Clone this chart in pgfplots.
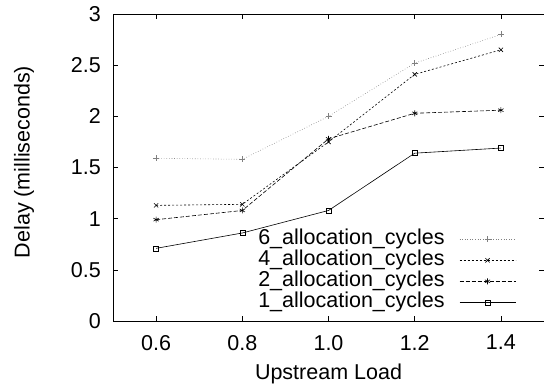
\documentclass[border=0pt]{standalone}
\usepackage{pgfplots}
\pgfplotsset{compat=1.18}
\usepackage{fontspec}
\setmainfont{Liberation Sans}
\begin{document}
\fontsize{21.5bp}{25bp}\selectfont
\begin{tikzpicture}
\useasboundingbox (0,0) rectangle (544bp,389bp);
\begin{axis}[
  at={(113bp,68bp)}, anchor=south west,
  scale only axis, width=431bp, height=307bp,
  xmin=0.5, xmax=1.5, ymin=0, ymax=3,
  xtick={0.6,0.8,1.0,1.2,1.4},
  xticklabels={0.6,0.8,1.0,1.2,1.4},
  ytick={0,0.5,1,1.5,2,2.5,3},
  yticklabels={0,0.5,1,1.5,2,2.5,3},
  tick align=inside, major tick length=5bp,
  tick style={black, line width=0.5bp},
  axis line style={line width=0.8bp},
  xtick pos=both, ytick pos=both,
  /pgf/number format/assume math mode=true,
  tick label style={font=\fontsize{21.5bp}{25bp}\selectfont},
  xticklabel style={inner sep=0pt, anchor=north, yshift=-14bp},
  yticklabel style={inner sep=0pt, anchor=east, xshift=-12bp},
  label style={font=\fontsize{21.5bp}{25bp}\selectfont},
  xlabel={Upstream Load},
  ylabel={Delay (milliseconds)},
  xlabel style={at={(axis description cs:0.5,-0.174)}, anchor=center},
  ylabel style={at={(axis description cs:-0.2065,0.518)}, anchor=center},
  legend style={at={(0.942,0.0195)}, anchor=south east, draw=none, fill=none,
    font=\fontsize{21.5bp}{25bp}\selectfont,
    nodes={inner sep=0.5bp, text height=15.5bp, text depth=4.5bp},
    row sep=0bp, column sep=14bp},
  legend cell align=right,
  legend plot pos=right,
  legend image code/.code={\draw[mark repeat=2,mark phase=2] plot coordinates {(0bp,0bp)(28bp,0bp)(56bp,0bp)};},
  every axis plot/.append style={line width=0.6bp, mark size=3bp, mark options={solid}},
]
\addplot[gray, dotted, mark=+] coordinates {(0.6,1.59)(0.8,1.58)(1.0,2.0)(1.2,2.52)(1.4,2.80)};
\addlegendentry{6\_allocation\_cycles}
\addplot[black, dash pattern=on 2bp off 2bp, mark=x] coordinates {(0.6,1.13)(0.8,1.14)(1.0,1.75)(1.2,2.41)(1.4,2.65)};
\addlegendentry{4\_allocation\_cycles}
\addplot[black, dash pattern=on 4bp off 2bp, mark=asterisk] coordinates {(0.6,0.99)(0.8,1.08)(1.0,1.78)(1.2,2.03)(1.4,2.06)};
\addlegendentry{2\_allocation\_cycles}
\addplot[black, solid, mark=square, mark size=2.5bp] coordinates {(0.6,0.71)(0.8,0.86)(1.0,1.08)(1.2,1.64)(1.4,1.69)};
\addlegendentry{1\_allocation\_cycles}
\end{axis}
\end{tikzpicture}
\end{document}
